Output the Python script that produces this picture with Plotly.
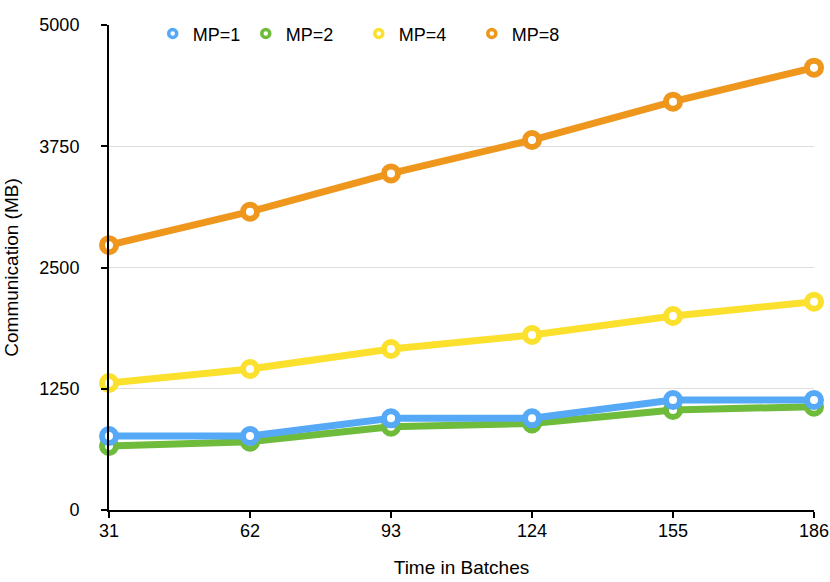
import plotly.graph_objects as go

batches = [31, 62, 93, 124, 155, 186]
mp1 = [763, 763, 945, 945, 1134, 1134]
mp2 = [660, 704, 859, 893, 1031, 1065]
mp4 = [1309, 1454, 1660, 1804, 2000, 2147]
mp8 = [2730, 3075, 3470, 3814, 4210, 4560]
y_ticks = [0, 1250, 2500, 3750, 5000]

names = ["MP=1", "MP=2", "MP=4", "MP=8"]
colors = {"MP=1": "#55A9F6", "MP=2": "#6FBB3C", "MP=4": "#FBE02E", "MP=8": "#EF961D"}
series = {"MP=1": mp1, "MP=2": mp2, "MP=4": mp4, "MP=8": mp8}
legend_of = {"MP=1": "legend", "MP=2": "legend2", "MP=4": "legend2", "MP=8": "legend2"}

fig = go.Figure()

# legend-only entries (marker only)
for n in names:
    fig.add_trace(go.Scatter(
        x=[None], y=[None], mode="markers", name=n,
        marker=dict(symbol="circle", size=8, color="white",
                    line=dict(color=colors[n], width=3.5)),
        showlegend=True, legend=legend_of[n],
    ))

# draw order: green under blue
for n in ["MP=2", "MP=1", "MP=4", "MP=8"]:
    fig.add_trace(go.Scatter(
        x=batches, y=series[n], mode="lines+markers", name=n,
        line=dict(color=colors[n], width=7),
        marker=dict(symbol="circle", size=14, color="white",
                    line=dict(color=colors[n], width=6)),
        cliponaxis=False, showlegend=False,
    ))

leg_common = dict(orientation="h", y=1.02, xanchor="left", yanchor="top",
                  bgcolor="rgba(0,0,0,0)", entrywidth=68, entrywidthmode="pixels",
                  itemwidth=30, font=dict(size=18))

fig.update_layout(
    width=830, height=582,
    margin=dict(l=109, r=16, t=25, b=72, autoexpand=False),
    plot_bgcolor="white", paper_bgcolor="white",
    font=dict(family="Liberation Sans, Arial, sans-serif", size=18, color="black"),
    legend=dict(x=0.0620, **leg_common),
    legend2=dict(x=0.194, **leg_common),
    showlegend=True,
)
fig.update_xaxes(
    range=[31, 186], tickvals=batches, showgrid=False, zeroline=False,
    showline=True, linecolor="black", linewidth=2, automargin=False,
    ticks="outside", ticklen=6, tickwidth=2, tickcolor="black",
    ticklabelstandoff=-3,
    title=dict(text="Time in Batches", font=dict(size=19), standoff=21),
)
fig.update_yaxes(
    range=[0, 5000], tickvals=y_ticks, showgrid=True, gridcolor="#DDDDDD", gridwidth=1,
    zeroline=False, showline=True, linecolor="black", linewidth=2, automargin=False,
    ticks="outside", ticklen=6, tickwidth=2, tickcolor="black",
    ticklabelstandoff=18,
    title=dict(text="Communication (MB)", font=dict(size=19), standoff=16),
)

fig.write_html(
    "out.html",
    config={"displayModeBar": False},
    post_script="document.body.style.margin='0';document.body.style.overflow='hidden';",
)
